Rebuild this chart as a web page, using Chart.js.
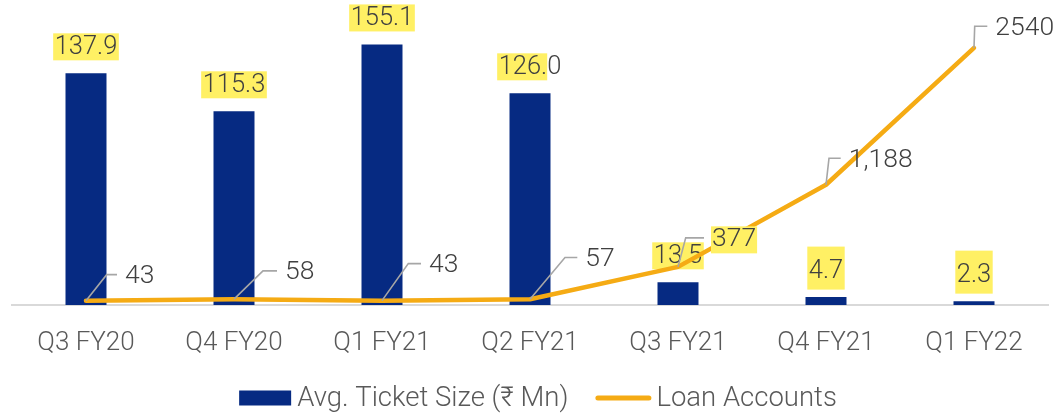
<!DOCTYPE html>
<html>
<head>
<meta charset="utf-8">
<script src="https://cdn.jsdelivr.net/npm/chart.js@4"></script>
<style>
  html, body { margin: 0; padding: 0; background: #ffffff; }
  #wrap { width: 1059px; height: 414px; position: relative; }
</style>
</head>
<body>
<div id="wrap"><canvas id="c"></canvas></div>
<script>
// ---- data ----
const categories = ['Q3 FY20', 'Q4 FY20', 'Q1 FY21', 'Q2 FY21', 'Q3 FY21', 'Q4 FY21', 'Q1 FY22'];
const ticketSize = [137.9, 115.3, 155.1, 126.0, 13.5, 4.7, 2.3];
const ticketLabels = ['137.9', '115.3', '155.1', '126.0', '13.5', '4.7', '2.3'];
const loanAccounts = [43, 58, 43, 57, 377, 1188, 2540];
const loanLabels = ['43', '58', '43', '57', '377', '1,188', '2540'];
const seriesNames = ['Avg. Ticket Size (\u20B9 Mn)', 'Loan Accounts'];

// ---- styles ----
const NAVY = '#062A82';
const GOLD = '#F5AB14';
const HILITE = '#FFF064';
const FONT = 'Roboto, "Noto Sans", sans-serif';
const BAR_LABEL_SIZE = 25.5;
const LINE_LABEL_SIZE = 26.5;
const LEGEND_SIZE = 27.5;
// per bar label: highlight box height/extent above text centre and number of highlighted characters (null = all)
const barBoxH = [27, 27, 27, 27, 27, 43, 43];
const barBoxUp = [13.5, 13.5, 13.5, 13.5, 13.5, 24, 24];
const barHiChars = [null, null, null, 4, null, null, null];
// per line label: leader elbow offset from the point, horizontal tail length
const lineLeader = [
  [20.7, -26, 10.3], [29, -28.3, 14], [26.3, -37, 12.7], [35, -41.7, 12.3],
  [7.7, -29, 18.3], [3, -26.5, 11.7], [0.7, -21.7, 12.6]
];
const lineHi = [false, false, false, false, true, false, false];

const labelsPlugin = {
  id: 'valueLabels',
  afterDatasetDraw(chart, args) {
    const ctx = chart.ctx;
    const meta = args.meta;
    ctx.save();
    ctx.textBaseline = 'middle';
    ctx.textAlign = 'left';
    if (args.index === 0) {
      ctx.font = '300 ' + BAR_LABEL_SIZE + 'px ' + FONT;
      meta.data.forEach((bar, i) => {
        const txt = ticketLabels[i];
        const cy = bar.y - 26.5;
        const w = ctx.measureText(txt).width;
        const left = bar.x - w / 2;
        const hiTxt = barHiChars[i] == null ? txt : txt.slice(0, barHiChars[i]);
        const hw = ctx.measureText(hiTxt).width;
        ctx.fillStyle = HILITE;
        ctx.fillRect(left - 1.5, cy - barBoxUp[i], hw + (barHiChars[i] == null ? 3 : 1.5), barBoxH[i]);
        ctx.fillStyle = '#404040';
        ctx.fillText(txt, left, cy + 1);
      });
    } else if (args.index === 1) {
      ctx.font = '300 ' + LINE_LABEL_SIZE + 'px ' + FONT;
      meta.data.forEach((pt, i) => {
        const [ex, ey, hl] = lineLeader[i];
        const x0 = pt.x, y0 = pt.y;
        const x1 = x0 + ex, y1 = y0 + ey, x2 = x1 + hl;
        ctx.strokeStyle = '#A6A6A6';
        ctx.lineWidth = 1.6;
        ctx.beginPath();
        ctx.moveTo(x0, y0);
        ctx.lineTo(x1, y1);
        ctx.lineTo(x2, y1);
        ctx.stroke();
        const txt = loanLabels[i];
        const tx = x2 + 8;
        const ty = y1 + 2;
        const w = ctx.measureText(txt).width;
        if (lineHi[i]) {
          ctx.fillStyle = HILITE;
          ctx.fillRect(tx - 1, ty - 13.5, w + 2, 27);
        }
        ctx.fillStyle = '#404040';
        ctx.fillText(txt, tx, ty);
      });
    }
    ctx.restore();
  }
};

// legend drawn below the axis labels, centred under the plot
const legendPlugin = {
  id: 'bottomLegend',
  afterDraw(chart) {
    const ctx = chart.ctx;
    ctx.save();
    ctx.font = '300 ' + LEGEND_SIZE + 'px ' + FONT;
    ctx.textBaseline = 'middle';
    ctx.textAlign = 'left';
    const t1 = ctx.measureText(seriesNames[0]).width;
    const t2 = ctx.measureText(seriesNames[1]).width;
    const boxW = 52, boxH = 15, gap1 = 6, gapItems = 27, lineW = 56, gap2 = 5;
    const total = boxW + gap1 + t1 + gapItems + lineW + gap2 + t2;
    const cx = (chart.chartArea.left + chart.chartArea.right) / 2 + 8;
    const cy = chart.height - 16;
    let x = cx - total / 2;
    ctx.fillStyle = NAVY;
    ctx.fillRect(x, cy - boxH / 2, boxW, boxH);
    x += boxW + gap1;
    ctx.fillStyle = '#595959';
    ctx.fillText(seriesNames[0], x, cy + 1);
    x += t1 + gapItems;
    ctx.strokeStyle = GOLD;
    ctx.lineWidth = 5;
    ctx.lineCap = 'round';
    ctx.beginPath();
    ctx.moveTo(x + 2.5, cy);
    ctx.lineTo(x + lineW - 2.5, cy);
    ctx.stroke();
    x += lineW + gap2;
    ctx.fillText(seriesNames[1], x, cy + 1);
    ctx.restore();
  }
};

const chart = new Chart(document.getElementById('c'), {
  type: 'bar',
  data: {
    labels: categories,
    datasets: [
      {
        type: 'bar',
        label: seriesNames[0],
        data: ticketSize,
        backgroundColor: NAVY,
        borderWidth: 0,
        barPercentage: 0.277,
        categoryPercentage: 1,
        yAxisID: 'y',
        order: 1
      },
      {
        type: 'line',
        label: seriesNames[1],
        data: loanAccounts,
        borderColor: GOLD,
        backgroundColor: GOLD,
        borderWidth: 4.5,
        borderCapStyle: 'round',
        borderJoinStyle: 'round',
        pointRadius: 0,
        tension: 0,
        yAxisID: 'y1',
        order: 0
      }
    ]
  },
  options: {
    responsive: true,
    maintainAspectRatio: false,
    animation: false,
    layout: { padding: { left: 12, right: 11, top: 10, bottom: 51 } },
    plugins: {
      legend: { display: false },
      tooltip: { enabled: false }
    },
    scales: {
      x: {
        offset: true,
        grid: { display: false, drawTicks: false },
        border: { display: true, color: '#D9D9D9', width: 2 },
        ticks: { color: '#595959', font: { family: FONT, size: 26, weight: '300' }, padding: 23 },
        afterFit(scale) { scale.height = 58; }
      },
      y: { display: false, min: 0, max: 175.6 },
      y1: { display: false, min: 0, max: 2915, position: 'right' }
    }
  },
  plugins: [labelsPlugin, legendPlugin]
});
</script>
</body>
</html>
